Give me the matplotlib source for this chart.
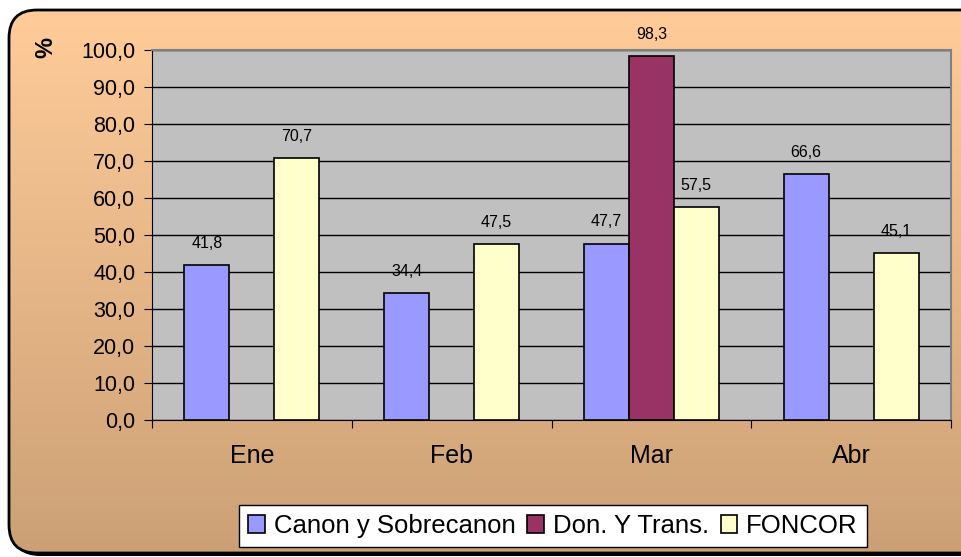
import numpy as np
import matplotlib.pyplot as plt
from matplotlib.patches import FancyBboxPatch

plt.rcParams['font.family'] = ['Liberation Sans', 'DejaVu Sans']

months = ["Ene", "Feb", "Mar", "Abr"]
series = ["Canon y Sobrecanon", "Don. Y Trans.", "FONCOR"]
canon = [41.8, 34.4, 47.7, 66.6]
donac = [np.nan, np.nan, 98.3, np.nan]
foncor = [70.7, 47.5, 57.5, 45.1]
colors = ["#9999FF", "#993366", "#FFFFCC"]
yticks = np.arange(0, 101, 10)

W, H = 961, 557
fig = plt.figure(figsize=(W / 100, H / 100), dpi=100)
fig.patch.set_facecolor("white")

# background panel with gradient and rounded border
bg = fig.add_axes([0, 0, 1, 1])
bg.set_xlim(0, W)
bg.set_ylim(H, 0)
bg.axis("off")
shadow = FancyBboxPatch((12, 13), 980, 543, boxstyle="round,pad=0,rounding_size=28",
                        fc="black", ec="none", zorder=0)
bg.add_patch(shadow)
box = FancyBboxPatch((9, 10), 980, 543, boxstyle="round,pad=0,rounding_size=28",
                     fc="none", ec="black", lw=2, zorder=3)
bg.add_patch(box)
top = np.array([255, 204, 153]) / 255
bot = np.array([204, 160, 118]) / 255
t = np.linspace(0, 1, 256)[:, None]
grad = (top[None, :] * (1 - t) + bot[None, :] * t)[:, None, :]
im = bg.imshow(grad, extent=[9, 989, 553, 10], aspect="auto", zorder=1)
im.set_clip_path(box)

ax = fig.add_axes([152 / W, (H - 420) / H, 799 / W, 370 / H])
ax.set_facecolor("#C0C0C0")
x = np.arange(len(months))
bw = 0.225
for i, (vals, c) in enumerate(zip([canon, donac, foncor], colors)):
    xs = x + (i - 1) * bw
    ax.bar(xs, vals, bw, color=c, edgecolor="black", linewidth=1.2, label=series[i], zorder=3)
    for xx, v in zip(xs, vals):
        if not np.isnan(v):
            ax.text(xx, v + 3.8, f"{v:.1f}".replace(".", ","), ha="center", va="bottom",
                    fontsize=11.5, zorder=4)

ax.set_xlim(-0.5, 3.5)
ax.set_ylim(0, 100)
ax.set_yticks(yticks)
ax.set_yticklabels([f"{v:.1f}".replace(".", ",") for v in yticks], fontsize=15.5)
ax.yaxis.grid(True, color="black", lw=1, zorder=1)
ax.set_xticks(np.arange(-0.5, 4, 1))
ax.set_xticklabels([])
ax.set_xticks(x, minor=True)
ax.set_xticklabels(months, minor=True, fontsize=18)
ax.tick_params(axis="x", which="minor", length=0, pad=17)
ax.tick_params(axis="x", which="major", length=6, direction="out")
ax.tick_params(axis="y", length=6, direction="out", pad=6)
for s in ["top", "right"]:
    ax.spines[s].set_color("#808080")
    ax.spines[s].set_linewidth(1.5)
ax.spines["left"].set_color("black")
ax.spines["bottom"].set_color("black")

fig.text(46 / W, 1 - 48 / H, "%", rotation=90, ha="center", va="center",
         fontsize=17, fontweight="bold")

leg = fig.legend(loc="center", bbox_to_anchor=(553 / W, 1 - 526 / H), ncol=3,
                 fontsize=18.5, frameon=True, fancybox=False, edgecolor="black",
                 framealpha=1, facecolor="white",
                 handlelength=0.65, handleheight=0.65, handletextpad=0.35,
                 columnspacing=0.45, borderpad=0.35, borderaxespad=0)
leg.get_frame().set_linewidth(1)

fig.savefig("out.png", dpi=100)
